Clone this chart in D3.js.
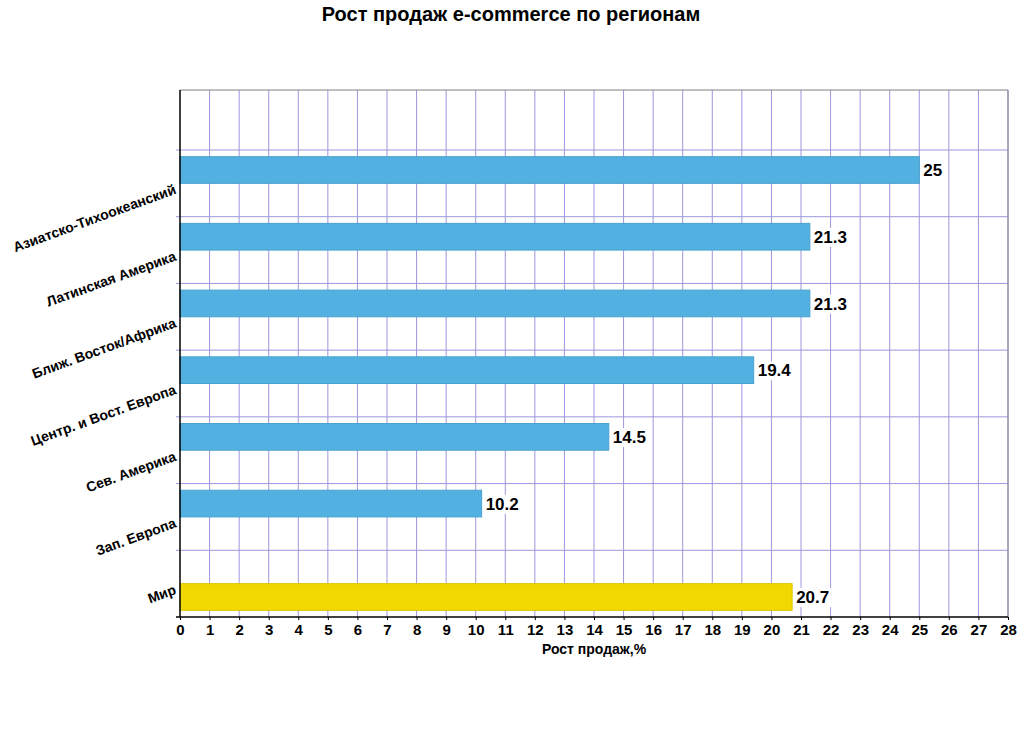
<!DOCTYPE html>
<html>
<head>
<meta charset="utf-8">
<script src="https://cdn.jsdelivr.net/npm/d3@7"></script>
<style>
  body { margin: 0; background: #fff; }
  text { font-family: "Liberation Sans", Arial, sans-serif; }
</style>
</head>
<body>
<svg id="chart" width="1024" height="753"></svg>
<script>
var regions = ["Мир", "Зап. Европа", "Сев. Америка", "Центр. и Вост. Европа",
    "Ближ. Восток/Африка", "Латинская Америка", "Азиатско-Тихоокеанский"];
var growth = [20.7, 10.2, 14.5, 19.4, 21.3, 21.3, 25];
var seriesOf = ["Мир", "Регионы", "Регионы", "Регионы", "Регионы", "Регионы", "Регионы"];
var seriesNames = ["Регионы", "Мир"];
var seriesColors = ["#52b1e1", "#f0d800"];
var xTicks = d3.range(0, 29);

var svg = d3.select("#chart");
var mLeft = 180, mRight = 1008, mTop = 90, mBottom = 617, bandTop = 150;

var x = d3.scaleLinear().domain([0, 28]).range([mLeft, mRight]);
var y = d3.scaleBand().domain(regions).range([mBottom, bandTop]);
var ySub = d3.scaleBand().domain(seriesNames).range([y.bandwidth() * 0.1, y.bandwidth() * 0.9]);
var color = d3.scaleOrdinal().domain(seriesNames).range(seriesColors);

// vertical grid
svg.append("g").selectAll("line")
    .data(xTicks.slice(1))
    .enter().append("line")
    .attr("x1", d => x(d)).attr("x2", d => x(d))
    .attr("y1", mTop).attr("y2", mBottom)
    .attr("stroke", "#9e96de").attr("stroke-width", 1);

// horizontal grid at band edges
var edges = regions.slice(1).map(d => y(d) + y.bandwidth()).concat([bandTop]);
svg.append("g").selectAll("line")
    .data(edges)
    .enter().append("line")
    .attr("x1", mLeft - 4).attr("x2", mRight)
    .attr("y1", d => d).attr("y2", d => d)
    .attr("stroke", "#9e96de").attr("stroke-width", 1);

// frame
svg.append("line").attr("x1", mLeft).attr("x2", mRight).attr("y1", mTop).attr("y2", mTop)
    .attr("stroke", "#808080");
svg.append("line").attr("x1", mRight).attr("x2", mRight).attr("y1", mTop).attr("y2", mBottom)
    .attr("stroke", "#808080");

// bars
var rows = regions.map((r, i) => ({ region: r, value: growth[i], series: seriesOf[i] }));
svg.append("g").selectAll("rect")
    .data(rows)
    .enter().append("rect")
    .attr("x", x(0))
    .attr("y", d => y(d.region) + ySub(d.series))
    .attr("width", d => x(d.value) - x(0))
    .attr("height", ySub.bandwidth())
    .attr("fill", d => color(d.series))
    .attr("stroke", d => d3.color(color(d.series)).darker(0.25))
    .attr("stroke-width", 1);

// value labels with white background
var vl = svg.append("g").selectAll("g")
    .data(rows)
    .enter().append("g")
    .attr("transform", d => "translate(" + (x(d.value) + 4) + "," + (y(d.region) + ySub(d.series) + ySub.bandwidth() / 2) + ")");
vl.append("text")
    .attr("dy", "0.36em")
    .attr("font-size", 17)
    .attr("font-weight", "bold")
    .attr("fill", "#000")
    .text(d => d.value);
vl.each(function() {
    var g = d3.select(this);
    var b = g.select("text").node().getBBox();
    g.insert("rect", "text")
        .attr("x", b.x - 2).attr("y", b.y)
        .attr("width", b.width + 4).attr("height", b.height)
        .attr("fill", "#fff");
});

// axes
svg.append("line").attr("x1", mLeft).attr("x2", mLeft).attr("y1", mTop).attr("y2", mBottom)
    .attr("stroke", "#000").attr("stroke-width", 1.5);
svg.append("line").attr("x1", mLeft - 4).attr("x2", mRight).attr("y1", mBottom).attr("y2", mBottom)
    .attr("stroke", "#000").attr("stroke-width", 1.5);

var xAxis = svg.append("g")
    .attr("transform", "translate(0," + mBottom + ")")
    .call(d3.axisBottom(x).tickValues(xTicks).tickSize(3).tickPadding(4).tickFormat(d3.format("d")));
xAxis.select(".domain").remove();
xAxis.selectAll("text")
    .attr("font-size", 15).attr("font-weight", "bold").attr("fill", "#000");

// category labels
svg.append("g").selectAll("text")
    .data(regions)
    .enter().append("text")
    .attr("transform", d => "translate(" + (mLeft - 3) + "," + (y(d) + y.bandwidth() / 2 + 10) + ") rotate(-20)")
    .attr("text-anchor", "end")
    .attr("font-size", 14)
    .attr("font-weight", "bold")
    .attr("fill", "#000")
    .text(d => d);

// axis title
svg.append("text")
    .attr("x", (mLeft + mRight) / 2).attr("y", 654)
    .attr("text-anchor", "middle")
    .attr("font-size", 14).attr("font-weight", "bold")
    .text("Рост продаж,%");

// chart title
svg.append("text")
    .attr("x", 511).attr("y", 21)
    .attr("text-anchor", "middle")
    .attr("font-size", 20).attr("font-weight", "bold")
    .text("Рост продаж e-commerce по регионам");
</script>
</body>
</html>
